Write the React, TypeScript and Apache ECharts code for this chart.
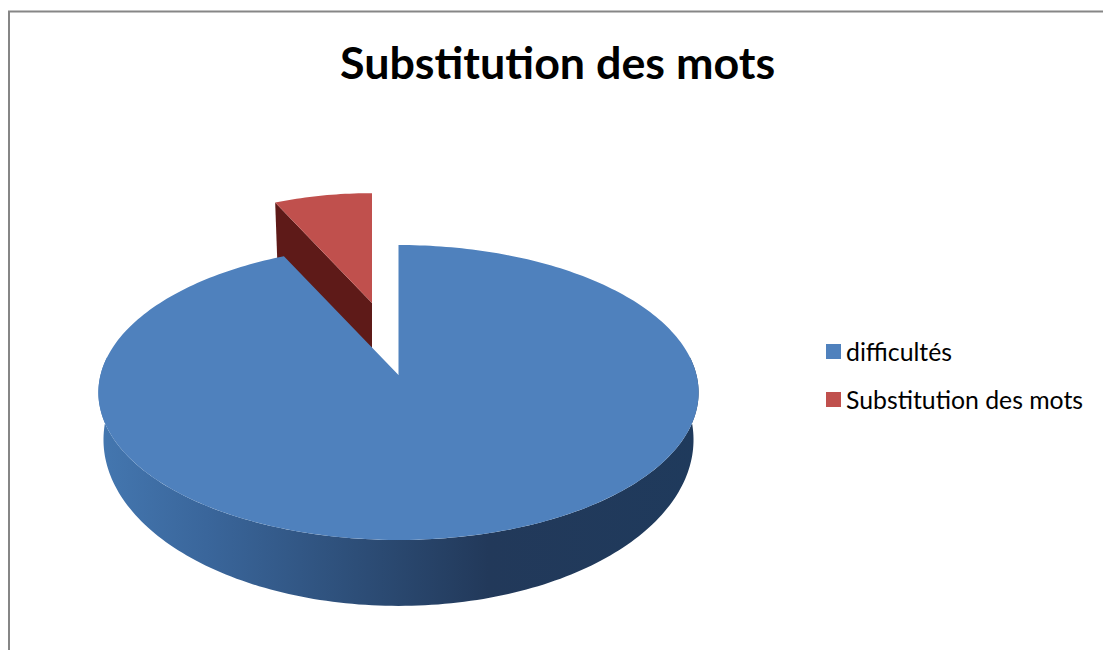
import React, { useEffect, useRef } from "react";
import * as echarts from "echarts";

const TITLE = "Substitution des mots";
const categories = ["difficultés", "Substitution des mots"];
const values = [93, 7];
const topColors = ["#4f81bd", "#c0504d"];

const total = values.reduce((a, b) => a + b, 0);
const P = 0.1186;
const BX = 298;
const BY = 145.4;

function project(cx: number, cy: number, kx: number, ky: number, theta: number): number[] {
  const s = Math.sin(theta);
  const c = Math.cos(theta);
  const w = 1 + P * c;
  return [cx + (BX * kx * s) / w, cy - (BY * ky * c) / w];
}

function arc(cx: number, cy: number, kx: number, ky: number, a0: number, a1: number): number[][] {
  const n = Math.max(2, Math.ceil(Math.abs(a1 - a0) / 0.02));
  const pts: number[][] = [];
  for (let i = 0; i <= n; i++) pts.push(project(cx, cy, kx, ky, a0 + ((a1 - a0) * i) / n));
  return pts;
}

const blueWallGradient = new echarts.graphic.LinearGradient(0, 0, 1, 0, [
  { offset: 0, color: "#4477b0" },
  { offset: 0.18, color: "#3a669b" },
  { offset: 0.45, color: "#2c4c75" },
  { offset: 0.65, color: "#22395a" },
  { offset: 1, color: "#1f3a5c" },
]);

function renderBlue(params: any, api: any) {
  const sweep = (api.value(0) / total) * Math.PI * 2;
  const cx = 398.5;
  const cy = 375;
  const upper = arc(cx, cy, 1, 1, Math.PI * 0.46, Math.PI * 1.54);
  const lower = arc(cx, 420, 0.983, 1.127, Math.PI * 0.46, Math.PI * 1.54);
  const wall = upper.concat(lower.reverse());
  const face = [[cx, cy]].concat(arc(cx, cy, 1, 1, 0, sweep));
  return {
    type: "group",
    children: [
      { type: "polygon", shape: { points: wall }, style: { fill: blueWallGradient } },
      { type: "polygon", shape: { points: face }, style: { fill: api.visual("color") } },
    ],
  };
}

function renderRed(params: any, api: any) {
  const sweep = (api.value(0) / total) * Math.PI * 2;
  const cx = 372;
  const cy = 303;
  const k = 0.845;
  const depth = 55;
  const end = project(cx, cy, k, k, -sweep);
  const wall = [
    end,
    [cx, cy],
    [cx, cy + depth],
    [end[0] + 2, end[1] + depth],
  ];
  const face = [[cx, cy]].concat(arc(cx, cy, k, k, 0, -sweep));
  return {
    type: "group",
    children: [
      { type: "polygon", shape: { points: wall }, style: { fill: "#5e1a18" } },
      { type: "polygon", shape: { points: face }, style: { fill: api.visual("color") } },
    ],
  };
}

export default function App() {
  const ref = useRef<HTMLDivElement>(null);
  useEffect(() => {
    const chart = echarts.init(ref.current!, undefined, { renderer: "svg" });
    chart.setOption({
      animation: false,
      backgroundColor: "#ffffff",
      title: {
        text: TITLE,
        left: 335,
        top: 34,
        textStyle: { fontFamily: "Lato", fontWeight: "bold", fontSize: 44.8, color: "#000000" },
      },
      legend: {
        orient: "vertical",
        left: 821,
        top: 334,
        itemWidth: 15,
        itemHeight: 15,
        itemGap: 23,
        itemStyle: { borderWidth: 0 },
        icon: "rect",
        data: categories,
        textStyle: { fontFamily: "Lato", fontSize: 24.8, color: "#000000" },
      },
      xAxis: { show: false, min: 0, max: 1 },
      yAxis: { show: false, min: 0, max: 1 },
      grid: { left: 0, right: 0, top: 0, bottom: 0 },
      graphic: [
        { type: "line", shape: { x1: 8, y1: 11.5, x2: 1103, y2: 11.5 }, style: { stroke: "#868686", lineWidth: 2 } },
        { type: "line", shape: { x1: 9, y1: 11, x2: 9, y2: 650 }, style: { stroke: "#868686", lineWidth: 2 } },
      ],
      series: [
        {
          type: "custom",
          name: categories[1],
          renderItem: renderRed,
          data: [[values[1]]],
          encode: { x: [], y: [] },
          itemStyle: { color: topColors[1] },
          silent: true,
          z: 1,
        },
        {
          type: "custom",
          name: categories[0],
          renderItem: renderBlue,
          data: [[values[0]]],
          encode: { x: [], y: [] },
          itemStyle: { color: topColors[0] },
          silent: true,
          z: 2,
        },
      ],
    });
    return () => chart.dispose();
  }, []);
  return <div ref={ref} style={{ position: "absolute", left: 0, top: 0, width: 1103, height: 650 }} />;
}
